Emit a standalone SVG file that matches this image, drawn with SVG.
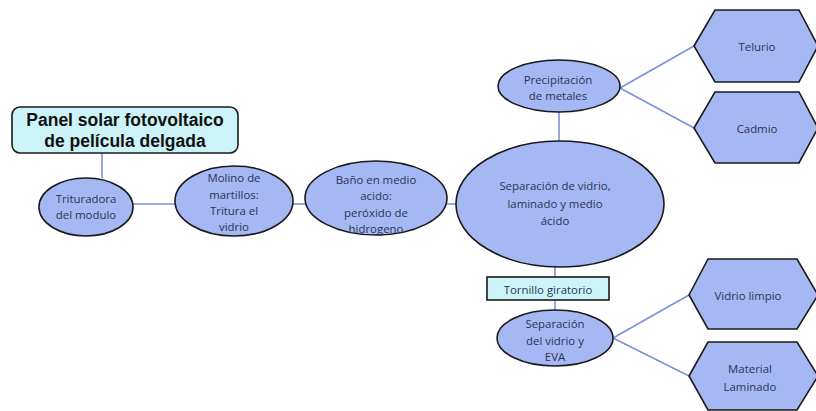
<svg xmlns="http://www.w3.org/2000/svg" width="816" height="411" viewBox="0 0 816 411">
<style>
.bg{fill:#fff}
.ell{fill:#a5b8f3;stroke:#1a1a1a;stroke-width:1.6}
.hex{fill:#a5b8f3;stroke:#1a1a1a;stroke-width:1.6;stroke-linejoin:miter}
.box{fill:#ccf3f8;stroke:#1a1a1a;stroke-width:1.6}
.lbl{font-family:"Open Sans","Liberation Sans",sans-serif;font-size:11.4px;fill:#2a3556;text-anchor:middle;dominant-baseline:central}
.title{font-family:"Liberation Sans",Arial,sans-serif;font-size:17.5px;font-weight:bold;fill:#111;text-anchor:middle;dominant-baseline:central}
.conn line{stroke:#7a92d8;stroke-width:1.6}
</style>
<rect class="bg" x="0" y="0" width="816" height="411"/>
<g class="conn" id="connectors">
<line x1="102" y1="153" x2="102" y2="178"/>
<line x1="133" y1="204" x2="176" y2="204"/>
<line x1="293" y1="204" x2="306" y2="204"/>
<line x1="447" y1="204" x2="456" y2="204"/>
<line x1="559" y1="112" x2="559" y2="141"/>
<line x1="620" y1="88" x2="694" y2="46"/>
<line x1="620" y1="88" x2="694" y2="128"/>
<line x1="555" y1="267" x2="555" y2="277"/>
<line x1="555" y1="300" x2="555" y2="310"/>
<line x1="613" y1="338" x2="689" y2="295"/>
<line x1="613" y1="338" x2="689" y2="376"/>
</g>
<g id="title">
<rect class="box" x="12" y="107" width="226" height="46" rx="8"/>
<text class="title" x="125" y="120">Panel solar fotovoltaico</text>
<text class="title" x="125" y="141">de película delgada</text>
</g>
<g id="trituradora">
<ellipse class="ell" cx="86" cy="207" rx="47" ry="29"/>
<text class="lbl" x="86" y="198">Trituradora</text>
<text class="lbl" x="86" y="214">del modulo</text>
</g>
<g id="molino">
<ellipse class="ell" cx="234" cy="201" rx="59" ry="35"/>
<text class="lbl" x="234" y="177">Molino de</text>
<text class="lbl" x="234" y="194">martillos:</text>
<text class="lbl" x="234" y="210">Tritura el</text>
<text class="lbl" x="234" y="226">vidrio</text>
</g>
<g id="bano">
<ellipse class="ell" cx="376" cy="198" rx="71" ry="37"/>
<text class="lbl" x="376" y="179">Baño en medio</text>
<text class="lbl" x="376" y="195">acido:</text>
<text class="lbl" x="376" y="212">peróxido de</text>
<text class="lbl" x="376" y="228">hidrogeno</text>
</g>
<g id="separacion">
<ellipse class="ell" cx="560" cy="204" rx="104" ry="63"/>
<text class="lbl" x="555" y="185">Separación de vidrio,</text>
<text class="lbl" x="555" y="203">laminado  y medio</text>
<text class="lbl" x="555" y="220">ácido</text>
</g>
<g id="precipitacion">
<ellipse class="ell" cx="559" cy="86" rx="61" ry="26"/>
<text class="lbl" x="558" y="79">Precipitación</text>
<text class="lbl" x="558" y="95">de metales</text>
</g>
<g id="telurio">
<polygon class="hex" points="694,46 715,10 799,10 818,46 799,82 715,82"/>
<text class="lbl" x="757" y="46">Telurio</text>
</g>
<g id="cadmio">
<polygon class="hex" points="694,128 715,92 799,92 818,128 799,163 715,163"/>
<text class="lbl" x="757" y="128">Cadmio</text>
</g>
<g id="tornillo">
<rect class="box" x="487" y="277" width="122" height="23"/>
<text class="lbl" x="548" y="289">Tornillo giratorio</text>
</g>
<g id="eva">
<ellipse class="ell" cx="555" cy="338" rx="58" ry="28"/>
<text class="lbl" x="555" y="323">Separación</text>
<text class="lbl" x="555" y="340">del vidrio y</text>
<text class="lbl" x="555" y="356">EVA</text>
</g>
<g id="vidrio">
<polygon class="hex" points="689,295 708,259 797,259 818,295 797,329 708,329"/>
<text class="lbl" x="748" y="295">Vidrio limpio</text>
</g>
<g id="material">
<polygon class="hex" points="689,376 708,342 797,342 818,376 797,410 708,410"/>
<text class="lbl" x="750" y="368">Material</text>
<text class="lbl" x="750" y="386">Laminado</text>
</g>
</svg>
